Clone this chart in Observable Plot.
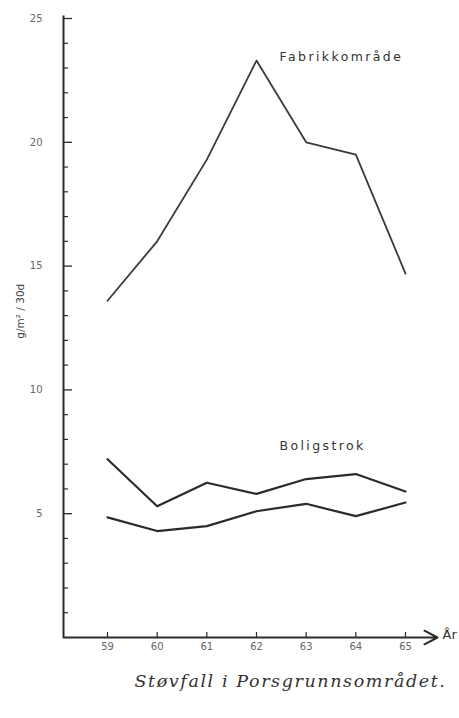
<!DOCTYPE html>
<html><head><meta charset="utf-8">
<script src="https://cdn.jsdelivr.net/npm/d3@7"></script>
<script src="https://cdn.jsdelivr.net/npm/@observablehq/plot@0.6"></script>
<style>
body{margin:0;background:#fff;}
#cap{font-family:"DejaVu Serif",serif;font-style:italic;font-size:17.5px;line-height:20px;margin-top:16px;padding-left:122px;text-align:center;color:#333;letter-spacing:1.6px;}
</style></head><body><div id="chart"></div><div id="cap">Støvfall i Porsgrunnsområdet.</div>
<script>
const years = [59, 60, 61, 62, 63, 64, 65];
const fabrikk = [13.6, 16.0, 19.3, 23.3, 20.0, 19.5, 14.7];
const boligA = [7.2, 5.3, 6.25, 5.8, 6.4, 6.6, 5.9];
const boligB = [4.85, 4.3, 4.5, 5.1, 5.4, 4.9, 5.45];
const yTicks = [5, 10, 15, 20, 25];
const yMinor = d3.range(1, 26).filter(d => d % 5 !== 0);
const seriesLabels = [
  {x: 63.71, y: 23.43, t: "Fabrikkområde"},
  {x: 63.33, y: 7.72, t: "Boligstrok"}
];

const pxX = (405 - 107) / 6, pxY = (637 - 18) / 25;
const X0 = 59 - 44 / pxX, XEND = 65 + 32 / pxX;

const toRows = vals => years.map((yr, i) => ({yr, v: vals[i]}));
const ink = "#2b2b2b";

const chart = Plot.plot({
  width: 459, height: 655,
  marginLeft: 63, marginRight: 22, marginTop: 18, marginBottom: 18,
  x: {domain: [59, 65], range: [107, 405]},
  y: {domain: [0, 25], range: [637, 18]},
  style: {fontFamily: "DejaVu Sans", background: "#fff"},
  marks: [
    Plot.axisY(yTicks, {tickSize: 0, tickPadding: 21, fontSize: 10, fill: "#666", tickFormat: d => String(d)}),
    Plot.axisX(years, {tickSize: 0, tickPadding: 5, fontSize: 10, fill: "#666", tickFormat: d => String(d)}),
    Plot.ruleX([X0], {y1: 0, y2: 25.1, stroke: ink, strokeWidth: 2}),
    Plot.ruleY(yTicks, {y: d => d, x1: X0, x2: X0 + 9 / pxX, stroke: ink, strokeWidth: 1.3}),
    Plot.ruleY(yMinor, {y: d => d, x1: X0, x2: X0 + 5 / pxX, stroke: ink, strokeWidth: 1.2}),
    Plot.arrow([0], {x1: X0, x2: XEND, y1: 0, y2: 0, stroke: ink, strokeWidth: 2, headLength: 11, headAngle: 55}),
    Plot.ruleX(years, {x: d => d, y1: 0, y2: 5 / pxY, stroke: ink, strokeWidth: 1.2}),
    Plot.text(["År"], {x: XEND, y: 0, dx: 5, dy: -3, textAnchor: "start", fontSize: 13, fill: "#333"}),
    Plot.line(toRows(fabrikk), {x: "yr", y: "v", stroke: "#3a3a3a", strokeWidth: 1.8}),
    Plot.line(toRows(boligA), {x: "yr", y: "v", stroke: ink, strokeWidth: 2.2}),
    Plot.line(toRows(boligB), {x: "yr", y: "v", stroke: ink, strokeWidth: 2.2}),
    Plot.text(seriesLabels, {x: "x", y: "y", text: "t", fontSize: 12.5, fill: "#333"}),
    Plot.text(["g/m² / 30d"], {frameAnchor: "left", dx: -43, y: 12.07, rotate: -90, fontSize: 10.5, fill: "#444"})
  ]
});
d3.select(chart).selectAll("text").filter(function() {
  return seriesLabels.some(s => s.t === this.textContent);
}).style("letter-spacing", "2.4px");
document.getElementById("chart").append(chart);
</script>
</body></html>
